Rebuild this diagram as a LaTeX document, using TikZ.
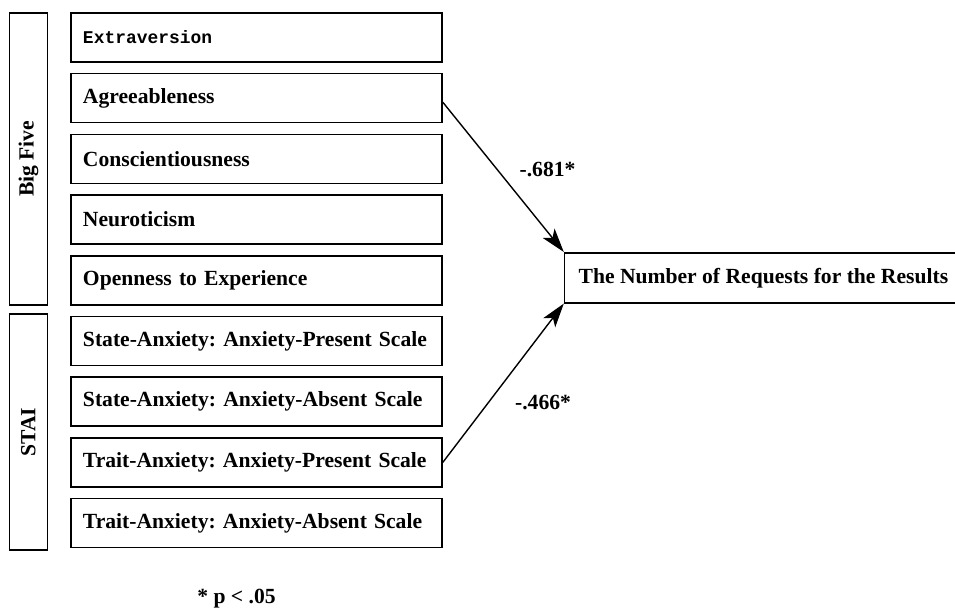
\documentclass[tikz,border=0pt]{standalone}
\usepackage{fontspec}
\setmainfont{Liberation Serif}
\newfontfamily\minchofont[Scale=0.83]{Liberation Mono}
\usetikzlibrary{positioning,calc,arrows.meta}
\frenchspacing

\tikzset{
	item/.style={draw, line width=0.8pt, minimum height=24.5pt, text width=173.5pt, inner xsep=6pt, align=left, font=\fontsize{10.8pt}{12pt}\selectfont\bfseries},
	group/.style={draw, line width=0.8pt, minimum width=19pt, inner sep=0pt, font=\fontsize{10.8pt}{12pt}\selectfont\bfseries},
	result/.style={draw, line width=0.8pt, minimum height=25pt, inner xsep=7pt, font=\fontsize{10.8pt}{12pt}\selectfont\bfseries},
	link/.style={line width=0.7pt, -{Stealth[length=12pt,width=7.5pt,inset=3pt]}},
	coef/.style={font=\fontsize{10.8pt}{12pt}\selectfont\bfseries},
}

\begin{document}
\begin{tikzpicture}[node distance=5.05pt]
		\useasboundingbox (0,0) rectangle (477.5pt,-304pt);

		\node [item] (extra) at (128.25pt,-18.75pt) {{\minchofont Extraversion}};
		\node [item, below=of extra] (agree) {Agreeableness};
		\node [item, below=of agree] (consc) {Conscientiousness};
		\node [item, below=of consc] (neuro) {Neuroticism};
		\node [item, below=of neuro] (open) {Openness to Experience};
		\node [item, below=of open] (sp) {State-Anxiety: Anxiety-Present Scale};
		\node [item, below=of sp] (sa) {State-Anxiety: Anxiety-Absent Scale};
		\node [item, below=of sa] (tp) {Trait-Anxiety: Anxiety-Present Scale};
		\node [item, below=of tp] (ta) {Trait-Anxiety: Anxiety-Absent Scale};

		\node [group, minimum height=146pt, left=11pt of consc] (big) {\rotatebox{90}{Big Five}};
		\coordinate (mid) at ($(sa.west)!0.5!(tp.west)$);
		\node [group, minimum height=118pt, left=11pt of mid] (stai) {\rotatebox{90}{STAI}};

		\node [result, right=60.5pt of open, yshift=1.25pt, anchor=west] (res) {The Number of Requests for the Results};

		\draw [link] ([yshift=-2pt]agree.east) -- node [coef, pos=0.45, right=7.5pt] {-.681*} (res.north west);
		\draw [link] (tp.east) -- node [coef, pos=0.38, right=9.5pt] {-.466*} (res.south west);

		\node [coef, below=17pt of ta, xshift=-10pt] (note) {* p < .05};

	\end{tikzpicture}
\end{document}
